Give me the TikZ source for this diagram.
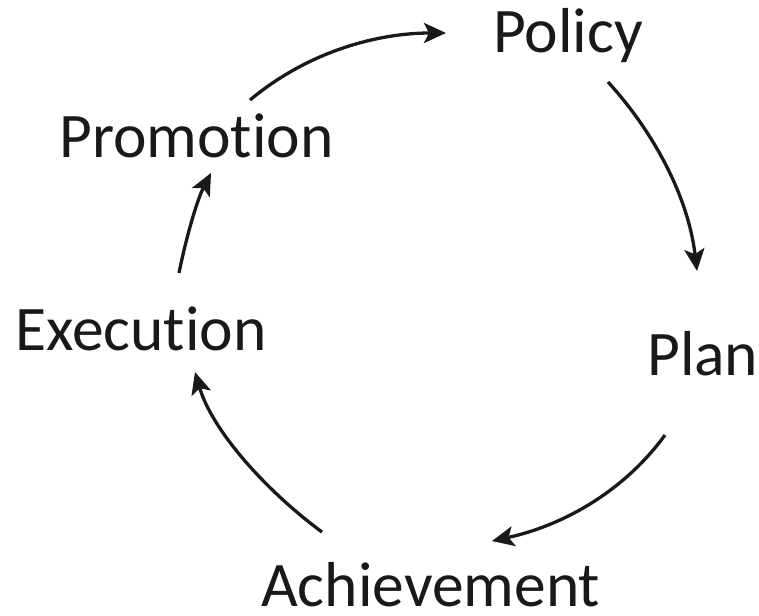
\documentclass[tikz,border=0pt]{standalone}
\usepackage{fontspec}
\setmainfont{Carlito}[Ligatures=NoCommon]
\usetikzlibrary{arrows.meta}
\begin{document}
\begin{tikzpicture}[x=1pt,y=-1pt,
  label/.style={anchor=base west,inner sep=0pt,font=\fontsize{63.5}{63.5}\selectfont,text=black!90},
  cyc/.style={line width=3.3pt,black!90,-{Stealth[length=22pt,width=20pt,inset=5pt]}}]
\useasboundingbox (0,0) rectangle (759,615);
% stage labels
\node[label] (policy) at (493,53) {Policy};
\node[label] (promotion) at (59,157) {Promotion};
\node[label] (execution) at (15,350) {Execution};
\node[label] (plan) at (647,375) {Plan};
\node[label] (achievement) at (261,606) {Achievement};
% connector end points
\coordinate (a1) at (250,100);  \coordinate (b1) at (446,33);
\coordinate (a2) at (608,82);   \coordinate (b2) at (697,271);
\coordinate (a3) at (665,435);  \coordinate (b3) at (492,541);
\coordinate (a4) at (322,532);  \coordinate (b4) at (195,372);
\coordinate (a5) at (179,273);  \coordinate (b5) at (211,173);
% cycle arrows
\draw[cyc] (a1) .. controls (310,50) and (380,33) .. (b1);
\draw[cyc] (a2) .. controls (652,130) and (688,195) .. (b2);
\draw[cyc] (a3) .. controls (625,490) and (565,525) .. (b3);
\draw[cyc] (a4) .. controls (265,490) and (212,430) .. (b4);
\draw[cyc] (a5) .. controls (186,238) and (197,200) .. (b5);
\end{tikzpicture}
\end{document}
